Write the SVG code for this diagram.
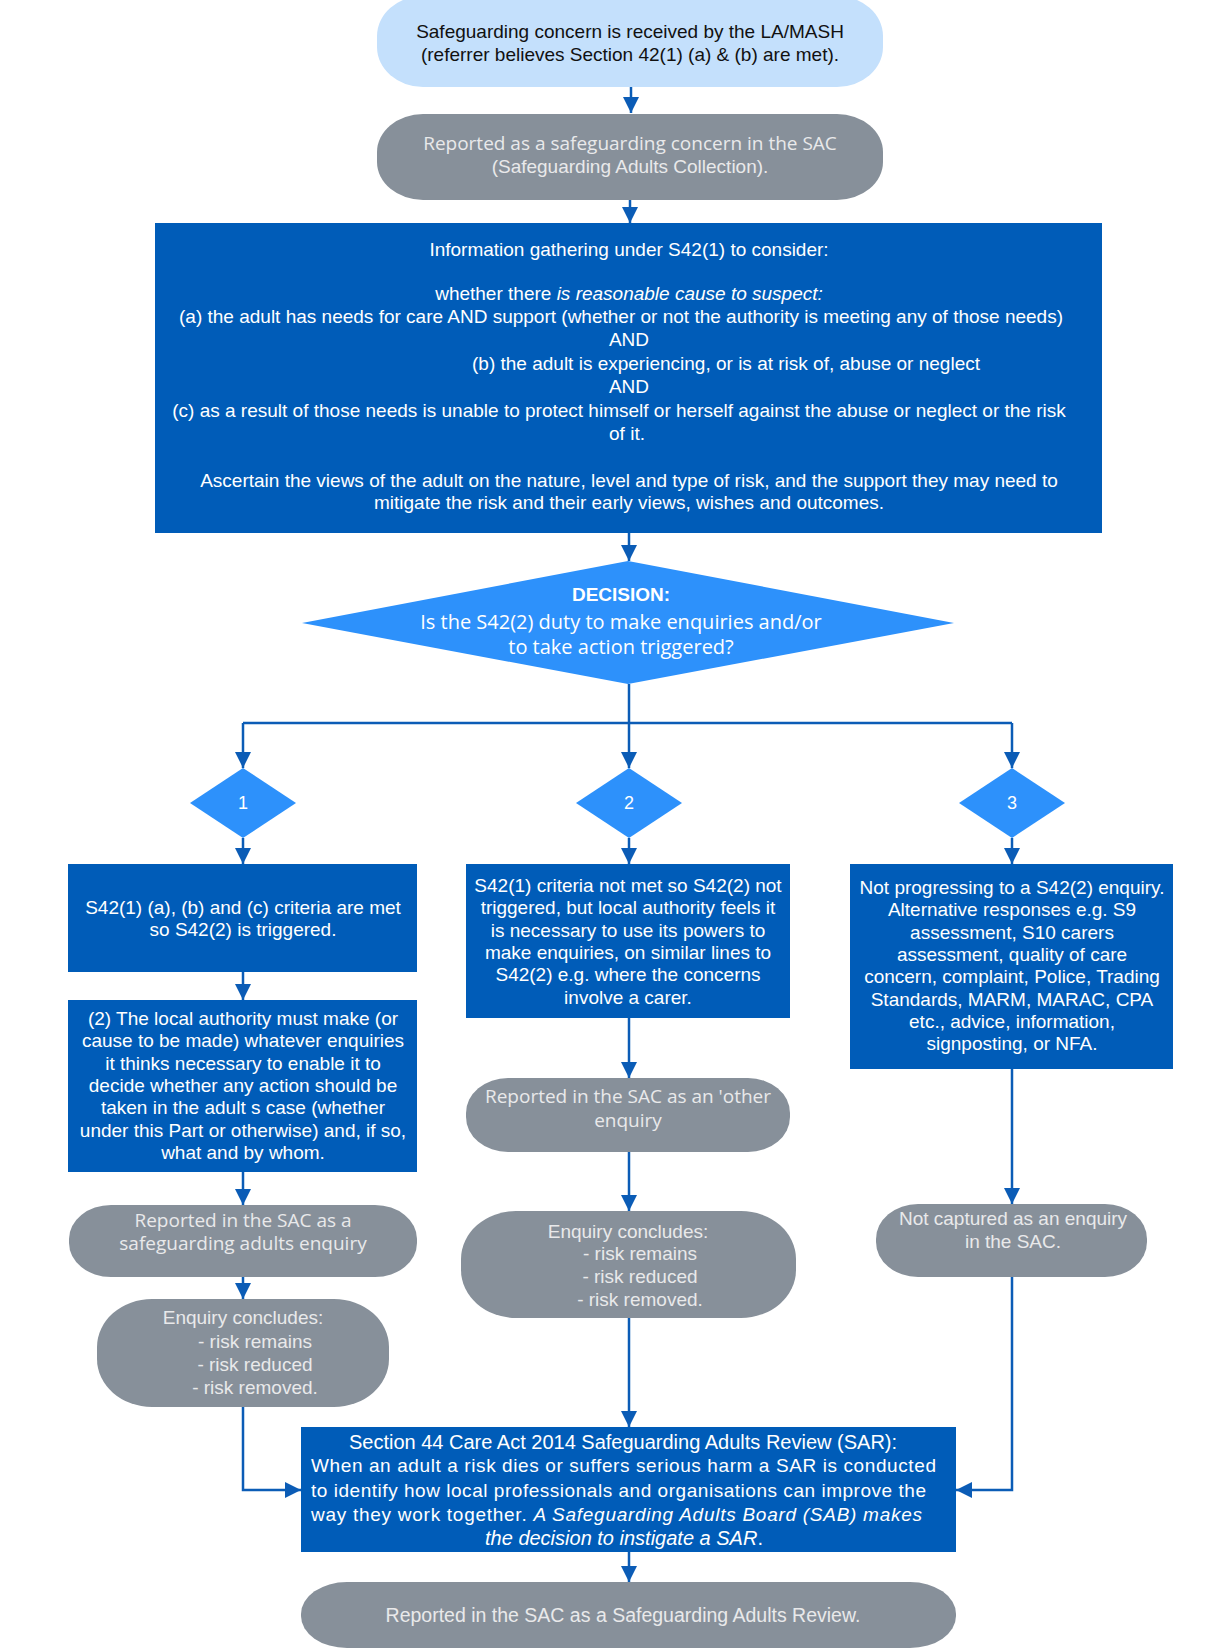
<svg xmlns="http://www.w3.org/2000/svg" width="1209" height="1650" viewBox="0 0 1209 1650">
<style>
.t{font-family:"Liberation Sans",Arial,sans-serif;font-size:19px;text-anchor:middle}
.s{font-family:"Open Sans","Noto Sans",sans-serif;font-size:19px;text-anchor:middle}
.st{text-anchor:start}
.w{fill:#ffffff}
.g{fill:#e9e9ea}
.k{fill:#111111}
.blue{fill:#005cb8}
.grey{fill:#87909a}
.dia{fill:#2d91fb}
.light{fill:#c4e0fc}
.c{fill:none;stroke:#0b5cb6;stroke-width:2.5;marker-end:url(#ah)}
.cl{fill:none;stroke:#0b5cb6;stroke-width:2.5}
</style>
<defs>
<marker id="ah" markerUnits="userSpaceOnUse" markerWidth="16" markerHeight="16" viewBox="0 0 16 16" refX="16" refY="8" orient="auto">
<path d="M0,0 L16,8 L0,16 z" fill="#0b5cb6"/>
</marker>
</defs>
<rect width="1209" height="1650" fill="#ffffff"/>

<g id="connectors">
<line class="c" x1="631" y1="87" x2="631" y2="113"/>
<line class="c" x1="630" y1="200" x2="630" y2="223"/>
<line class="c" x1="629" y1="533" x2="629" y2="561"/>
<line class="cl" x1="629" y1="684" x2="629" y2="723"/>
<line class="cl" x1="243" y1="723" x2="1012" y2="723"/>
<line class="c" x1="243" y1="723" x2="243" y2="768"/>
<line class="c" x1="629" y1="723" x2="629" y2="768"/>
<line class="c" x1="1012" y1="723" x2="1012" y2="768"/>
<line class="c" x1="243" y1="838" x2="243" y2="864"/>
<line class="c" x1="629" y1="838" x2="629" y2="864"/>
<line class="c" x1="1012" y1="838" x2="1012" y2="864"/>
<line class="c" x1="243" y1="972" x2="243" y2="1000"/>
<line class="c" x1="243" y1="1172" x2="243" y2="1205"/>
<line class="c" x1="243" y1="1277" x2="243" y2="1299"/>
<polyline class="c" points="243,1407 243,1490 301,1490"/>
<line class="c" x1="629" y1="1018" x2="629" y2="1078"/>
<line class="c" x1="629" y1="1152" x2="629" y2="1211"/>
<line class="c" x1="629" y1="1318" x2="629" y2="1427"/>
<line class="c" x1="629" y1="1552" x2="629" y2="1582"/>
<line class="c" x1="1012" y1="1069" x2="1012" y2="1204"/>
<polyline class="c" points="1012,1277 1012,1490 956,1490"/>
</g>

<g id="concern-received">
<rect class="light" x="377" y="-4" width="506" height="91" rx="46" ry="40"/>
<text class="t k" x="630" y="38">Safeguarding concern is received by the LA/MASH</text>
<text class="t k" x="630" y="61">(referrer believes Section 42(1) (a) &amp; (b) are met).</text>
</g>

<g id="reported-concern">
<rect class="grey" x="377" y="114" width="506" height="86" rx="46" ry="38"/>
<text class="s g" x="630" y="150">Reported as a safeguarding concern in the SAC</text>
<text class="t g" x="630" y="173">(Safeguarding Adults Collection).</text>
</g>

<g id="information-gathering">
<rect class="blue" x="155" y="223" width="947" height="310"/>
<text class="t w" x="629" y="256">Information gathering under S42(1) to consider:</text>
<text class="t w" x="629" y="300">whether there <tspan font-style="italic">is reasonable cause to suspect:</tspan></text>
<text class="t w" x="621" y="323">(a) the adult has needs for care AND support (whether or not the authority is meeting any of those needs)</text>
<text class="t w" x="629" y="346">AND</text>
<text class="t w" x="726" y="370">(b) the adult is experiencing, or is at risk of, abuse or neglect</text>
<text class="t w" x="629" y="393">AND</text>
<text class="t w" x="619" y="417">(c) as a result of those needs is unable to protect himself or herself against the abuse or neglect or the risk</text>
<text class="t w" x="627" y="440">of it.</text>
<text class="t w" x="629" y="487">Ascertain the views of the adult on the nature, level and type of risk, and the support they may need to</text>
<text class="t w" x="629" y="509">mitigate the risk and their early views, wishes and outcomes.</text>
</g>

<g id="decision">
<polygon class="dia" points="628,561 954,623 628,684 302,623"/>
<text class="t w" x="621" y="601" style="font-weight:bold">DECISION:</text>
<text class="s w" x="621" y="629" style="font-size:20px">Is the S42(2) duty to make enquiries and/or</text>
<text class="s w" x="621" y="654" style="font-size:20px">to take action triggered?</text>
</g>

<g id="option-1">
<polygon class="dia" points="243,768 296,803 243,838 190,803"/>
<text class="t w" x="243" y="809" style="font-size:18px">1</text>
</g>
<g id="option-2">
<polygon class="dia" points="629,768 682,803 629,838 576,803"/>
<text class="t w" x="629" y="809" style="font-size:18px">2</text>
</g>
<g id="option-3">
<polygon class="dia" points="1012,768 1065,803 1012,838 959,803"/>
<text class="t w" x="1012" y="809" style="font-size:18px">3</text>
</g>

<g id="criteria-met">
<rect class="blue" x="68" y="864" width="349" height="108"/>
<text class="t w" x="243" y="914">S42(1) (a), (b) and (c) criteria are met</text>
<text class="t w" x="243" y="936">so S42(2) is triggered.</text>
</g>

<g id="local-authority-must">
<rect class="blue" x="68" y="1000" width="349" height="172"/>
<text class="t w" x="243" y="1025">(2) The local authority must make (or</text>
<text class="t w" x="243" y="1047">cause to be made) whatever enquiries</text>
<text class="t w" x="243" y="1070">it thinks necessary to enable it to</text>
<text class="t w" x="243" y="1092">decide whether any action should be</text>
<text class="t w" x="243" y="1114">taken in the adult s case (whether</text>
<text class="t w" x="243" y="1137">under this Part or otherwise) and, if so,</text>
<text class="t w" x="243" y="1159">what and by whom.</text>
</g>

<g id="reported-sa-enquiry">
<rect class="grey" x="69" y="1205" width="348" height="72" rx="42" ry="34"/>
<text class="s g" x="243" y="1227">Reported in the SAC as a</text>
<text class="s g" x="243" y="1250">safeguarding adults enquiry</text>
</g>

<g id="enquiry-concludes-1">
<rect class="grey" x="97" y="1299" width="292" height="108" rx="55" ry="48"/>
<text class="t g" x="243" y="1324">Enquiry concludes:</text>
<text class="t g" x="255" y="1348">- risk remains</text>
<text class="t g" x="255" y="1371">- risk reduced</text>
<text class="t g" x="255" y="1394">- risk removed.</text>
</g>

<g id="criteria-not-met">
<rect class="blue" x="466" y="864" width="324" height="154"/>
<text class="t w" x="628" y="892">S42(1) criteria not met so S42(2) not</text>
<text class="t w" x="628" y="914">triggered, but local authority feels it</text>
<text class="t w" x="628" y="937">is necessary to use its powers to</text>
<text class="t w" x="628" y="959">make enquiries, on similar lines to</text>
<text class="t w" x="628" y="981">S42(2) e.g. where the concerns</text>
<text class="t w" x="628" y="1004">involve a carer.</text>
</g>

<g id="reported-other-enquiry">
<rect class="grey" x="466" y="1078" width="324" height="74" rx="42" ry="35"/>
<text class="s g" x="628" y="1103">Reported in the SAC as an 'other</text>
<text class="s g" x="628" y="1127">enquiry</text>
</g>

<g id="enquiry-concludes-2">
<rect class="grey" x="461" y="1211" width="335" height="107" rx="55" ry="48"/>
<text class="t g" x="628" y="1238">Enquiry concludes:</text>
<text class="t g" x="640" y="1260">- risk remains</text>
<text class="t g" x="640" y="1283">- risk reduced</text>
<text class="t g" x="640" y="1306">- risk removed.</text>
</g>

<g id="not-progressing">
<rect class="blue" x="850" y="864" width="323" height="205"/>
<text class="t w" x="1012" y="894">Not progressing to a S42(2) enquiry.</text>
<text class="t w" x="1012" y="916">Alternative responses e.g. S9</text>
<text class="t w" x="1012" y="939">assessment, S10 carers</text>
<text class="t w" x="1012" y="961">assessment, quality of care</text>
<text class="t w" x="1012" y="983">concern, complaint, Police, Trading</text>
<text class="t w" x="1012" y="1006">Standards, MARM, MARAC, CPA</text>
<text class="t w" x="1012" y="1028">etc., advice, information,</text>
<text class="t w" x="1012" y="1050">signposting, or NFA.</text>
</g>

<g id="not-captured">
<rect class="grey" x="876" y="1204" width="271" height="73" rx="42" ry="35"/>
<text class="t g" x="1013" y="1225">Not captured as an enquiry</text>
<text class="t g" x="1013" y="1248">in the SAC.</text>
</g>

<g id="sar">
<rect class="blue" x="301" y="1427" width="655" height="125"/>
<text class="t w" x="623" y="1449" style="font-size:20px">Section 44 Care Act 2014 Safeguarding Adults Review (SAR):</text>
<text class="t w st" x="311" y="1472" textLength="625" lengthAdjust="spacing">When an adult a risk dies or suffers serious harm a SAR is conducted</text>
<text class="t w st" x="311" y="1497" textLength="615" lengthAdjust="spacing">to identify how local professionals and organisations can improve the</text>
<text class="t w st" x="311" y="1521" textLength="611" lengthAdjust="spacing">way they work together. <tspan font-style="italic">A Safeguarding Adults Board (SAB) makes</tspan></text>
<text class="t w" x="624" y="1545" style="font-size:20px"><tspan font-style="italic">the decision to instigate a SAR</tspan>.</text>
</g>

<g id="reported-sar">
<rect class="grey" x="301" y="1582" width="655" height="66" rx="46" ry="32"/>
<text class="t g" x="623" y="1622" style="font-size:19.5px">Reported in the SAC as a Safeguarding Adults Review.</text>
</g>
</svg>
